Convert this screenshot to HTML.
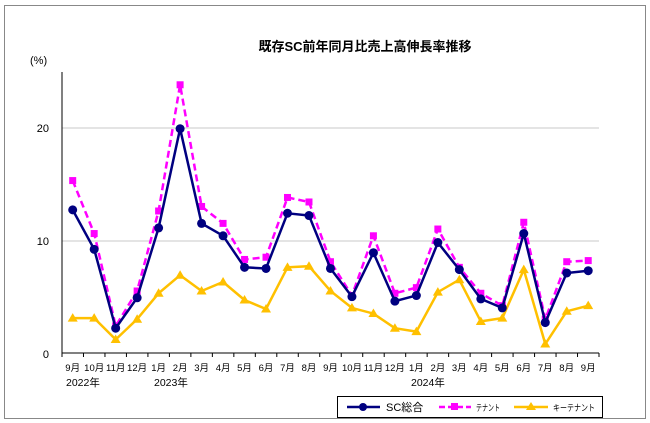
<!DOCTYPE html>
<html><head><meta charset="utf-8"><style>
html,body{margin:0;padding:0;background:#fff;}
svg{display:block;font-family:"Liberation Sans","Noto Sans CJK JP",sans-serif;}
</style></head><body>
<svg id="c" width="650" height="423" viewBox="0 0 650 423" xmlns="http://www.w3.org/2000/svg">
<rect x="4.5" y="5.5" width="641" height="413" fill="#fff" stroke="#888" stroke-width="1"/>
<text x="365" y="51" font-size="13" font-weight="bold" text-anchor="middle" fill="#000">既存SC前年同月比売上高伸長率推移</text>
<text x="30" y="64" font-size="11" fill="#000">(%)</text>
<line x1="62" y1="241" x2="599" y2="241" stroke="#c8c8c8" stroke-width="1"/>
<line x1="62" y1="128" x2="599" y2="128" stroke="#c8c8c8" stroke-width="1"/>
<line x1="62" y1="72" x2="62" y2="353" stroke="#000" stroke-width="1"/>
<line x1="62" y1="353" x2="599" y2="353" stroke="#000" stroke-width="1"/>
<text x="49" y="358" font-size="11" text-anchor="end">0</text>
<text x="49" y="245" font-size="11" text-anchor="end">10</text>
<text x="49" y="132" font-size="11" text-anchor="end">20</text>
<g id="ticks"></g>
<g font-size="9.5" text-anchor="middle" fill="#000">
<text x="72.7" y="371">9月</text><text x="94.2" y="371">10月</text><text x="115.7" y="371">11月</text><text x="137.1" y="371">12月</text>
<text x="158.6" y="371">1月</text><text x="180.1" y="371">2月</text><text x="201.6" y="371">3月</text><text x="223.1" y="371">4月</text>
<text x="244.5" y="371">5月</text><text x="266.0" y="371">6月</text><text x="287.5" y="371">7月</text><text x="309.0" y="371">8月</text>
<text x="330.5" y="371">9月</text><text x="352.0" y="371">10月</text><text x="373.4" y="371">11月</text><text x="394.9" y="371">12月</text>
<text x="416.4" y="371">1月</text><text x="437.9" y="371">2月</text><text x="459.3" y="371">3月</text><text x="480.8" y="371">4月</text>
<text x="502.3" y="371">5月</text><text x="523.8" y="371">6月</text><text x="545.3" y="371">7月</text><text x="566.7" y="371">8月</text>
<text x="588.2" y="371">9月</text>
</g>
<g font-size="10.5" fill="#000">
<text x="66" y="386">2022年</text><text x="154" y="386">2023年</text><text x="411" y="386">2024年</text>
</g>
<g id="series"></g>
<rect x="337.5" y="396.5" width="265" height="21" fill="#fff" stroke="#000" stroke-width="1"/>
<line x1="347" y1="407" x2="380" y2="407" stroke="#000080" stroke-width="2.5"/>
<circle cx="363" cy="407" r="4" fill="#000080"/>
<text x="386" y="411" font-size="11">SC総合</text>
<line x1="439" y1="407" x2="471" y2="407" stroke="#ff00ff" stroke-width="2.5" stroke-dasharray="6,3"/>
<rect x="451" y="403" width="7" height="7" fill="#ff00ff"/>
<text x="476" y="411" font-size="9" textLength="24" lengthAdjust="spacingAndGlyphs">テナント</text>
<line x1="514" y1="407" x2="548" y2="407" stroke="#ffc000" stroke-width="2.5"/>
<polygon points="531,402 536,410 526,410" fill="#ffc000"/>
<text x="553" y="411" font-size="9" textLength="42" lengthAdjust="spacingAndGlyphs">キーテナント</text>
</svg>
<script>
var sc=[12.7,9.2,2.2,4.9,11.1,19.9,11.5,10.4,7.6,7.5,12.4,12.2,7.5,5.0,8.9,4.6,5.1,9.8,7.4,4.8,4.0,10.6,2.7,7.1,7.3];
var te=[15.3,10.6,2.4,5.5,12.6,23.8,13.0,11.5,8.3,8.5,13.8,13.4,8.1,5.1,10.4,5.3,5.8,11.0,7.6,5.3,4.2,11.6,3.0,8.1,8.2];
var ke=[3.1,3.1,1.2,3.0,5.3,6.9,5.5,6.3,4.7,3.9,7.6,7.7,5.5,4.0,3.5,2.2,1.9,5.4,6.5,2.8,3.1,7.4,0.8,3.7,4.2];
var NS="http://www.w3.org/2000/svg";
function X(i){return 72.7+21.48*i;} function Y(v){return 353-v*11.27;}
function el(t,a,p){var e=document.createElementNS(NS,t);for(var k in a)e.setAttribute(k,a[k]);p.appendChild(e);return e;}
var tk=document.getElementById('ticks');
for(var i=0;i<=25;i++){var x=62+21.48*i;el('line',{x1:x,y1:353,x2:x,y2:357,stroke:'#000','stroke-width':1},tk);}
var g=document.getElementById('series');
function pts(d){return d.map(function(v,i){return X(i).toFixed(1)+','+Y(v).toFixed(1);}).join(' ');}
el('polyline',{points:pts(ke),fill:'none',stroke:'#ffc000','stroke-width':2.5},g);
ke.forEach(function(v,i){var x=X(i),y=Y(v);el('polygon',{points:(x)+','+(y-5)+' '+(x+5)+','+(y+3.5)+' '+(x-5)+','+(y+3.5),fill:'#ffc000'},g);});
el('polyline',{points:pts(te),fill:'none',stroke:'#ff00ff','stroke-width':2.5,'stroke-dasharray':'7,4'},g);
te.forEach(function(v,i){el('rect',{x:X(i)-3.5,y:Y(v)-3.5,width:7,height:7,fill:'#ff00ff'},g);});
el('polyline',{points:pts(sc),fill:'none',stroke:'#000080','stroke-width':2.5},g);
sc.forEach(function(v,i){el('circle',{cx:X(i),cy:Y(v),r:4.5,fill:'#000080'},g);});
</script>
</body></html>
